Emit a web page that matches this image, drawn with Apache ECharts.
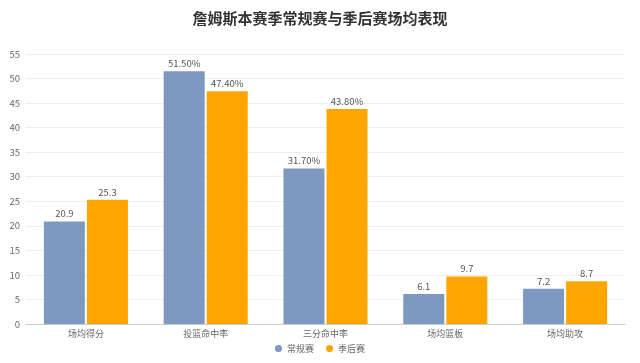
<!DOCTYPE html>
<html><head><meta charset="utf-8">
<script src="https://cdn.jsdelivr.net/npm/echarts@6/dist/echarts.min.js"></script>
<style>html,body{margin:0;padding:0;background:#fff}#c{width:640px;height:363px}</style>
</head><body><div id="c"></div>
<script>
const categories = ['场均得分','投篮命中率','三分命中率','场均篮板','场均助攻'];
const regular = [20.9, 51.5, 31.7, 6.1, 7.2];
const playoff = [25.3, 47.4, 43.8, 9.7, 8.7];
const regularLabels = ['20.9','51.50%','31.70%','6.1','7.2'];
const playoffLabels = ['25.3','47.40%','43.80%','9.7','8.7'];
const yTicks = [0,5,10,15,20,25,30,35,40,45,50,55];
const font = '"Noto Sans CJK SC", "Noto Sans", sans-serif';
const chart = echarts.init(document.getElementById('c'));
chart.setOption({
  textStyle:{fontFamily:font},
  title:{text:'詹姆斯本赛季常规赛与季后赛场均表现',left:'center',top:6,textStyle:{fontSize:15,fontWeight:'bold',color:'#333',fontFamily:font}},
  legend:{bottom:5,icon:'circle',itemWidth:7,itemHeight:7,itemGap:12,textStyle:{fontSize:9,color:'#666'},data:['常规赛','季后赛']},
  grid:{left:26,right:15,top:54,bottom:39,containLabel:false},
  xAxis:{type:'category',data:categories,axisTick:{alignWithLabel:true,lineStyle:{color:'#ccc'}},axisLine:{lineStyle:{color:'#ccc'}},axisLabel:{color:'#666',fontSize:9,margin:5}},
  yAxis:{type:'value',min:0,max:55,interval:5,axisLabel:{color:'#666',fontSize:9.5,margin:6},splitLine:{lineStyle:{color:'#eee'}},axisLine:{show:false},axisTick:{show:false}},
  series:[
    {name:'常规赛',type:'bar',data:regular,barWidth:41,barGap:'5%',itemStyle:{color:'#7d98c1'},
     label:{show:true,position:'top',color:'#555',fontSize:9.5,distance:3,formatter:p=>regularLabels[p.dataIndex]}},
    {name:'季后赛',type:'bar',data:playoff,barWidth:41,itemStyle:{color:'#ffa500'},
     label:{show:true,position:'top',color:'#555',fontSize:9.5,distance:3,formatter:p=>playoffLabels[p.dataIndex]}}
  ]
});
</script></body></html>
